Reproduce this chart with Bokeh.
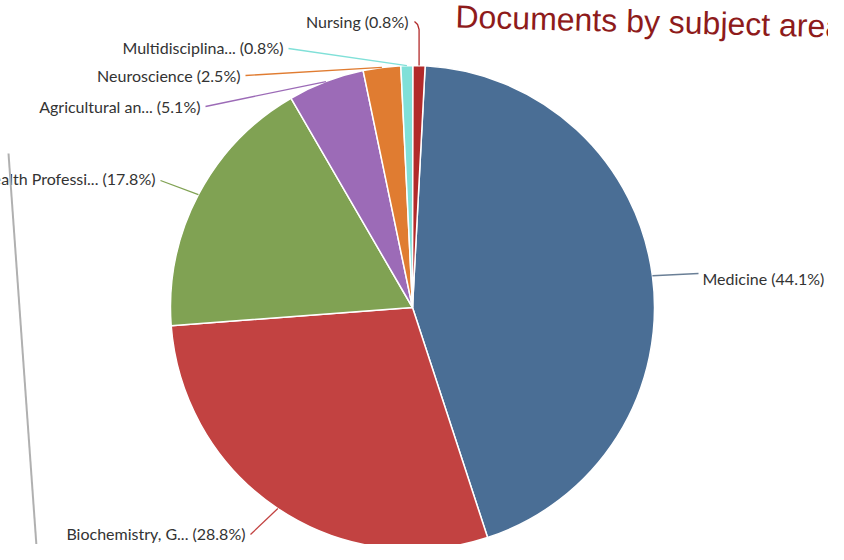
import math
from bokeh.plotting import figure
from bokeh.models import Range1d, ColumnDataSource
from bokeh.core.properties import value
from bokeh.embed import file_html
from bokeh.resources import INLINE

# ---- data ----
subjects = ["Medicine", "Biochemistry, G...", "Health Professi...", "Agricultural an...",
            "Neuroscience", "Multidisciplina...", "Nursing"]
shares = [44.1, 28.8, 17.8, 5.1, 2.5, 0.8, 0.8]
colors = ["#4a6e95", "#c24241", "#80a253", "#9c6bb7", "#e07c31", "#80e0d8", "#b22a2a"]
title_text = "Documents by subject area"

# ---- layout (screen pixel coordinates) ----
W, H = 828, 544
cx, cy_px, R = 412, 307, 242
start_offset = math.radians(3)   # pie rotated slightly clockwise
def Y(py):
    return 560 - py

# label anchors: (text x, text y, align, connector end x, connector end y)
label_layout = [
    (702, 278, "left", 698, 273),
    (245, 533, "right", 250, 534),
    (155, 178, "right", 160, 180),
    (200, 106, "right", 205, 106),
    (240, 75, "right", 245, 75),
    (283, 47, "right", 288, 48),
    (408, 21, "right", 414, 21),
]

p = figure(width=W, height=H, output_backend="svg", toolbar_location=None,
           x_range=Range1d(0, W), y_range=Range1d(Y(H), Y(0)),
           min_border=0, outline_line_color=None)
p.axis.visible = False
p.grid.visible = False
p.background_fill_color = "white"
p.border_fill_color = "white"

total = sum(shares)
starts, ends, mids = [], [], []
cum = 0.0
for s in shares:
    a0 = math.pi / 2 - start_offset - 2 * math.pi * cum / total
    cum += s
    a1 = math.pi / 2 - start_offset - 2 * math.pi * cum / total
    starts.append(a0)
    ends.append(a1)
    mids.append((a0 + a1) / 2)

src = ColumnDataSource(dict(start=starts, end=ends, color=colors))
p.wedge(x=cx, y=Y(cy_px), radius=R, start_angle="start", end_angle="end",
        direction="clock", fill_color="color", line_color="white", line_width=1.5,
        source=src)

# connectors
xs, ys, lcol = [], [], []
for i, m in enumerate(mids):
    ex = cx + R * math.cos(m)
    ey = Y(cy_px) + R * math.sin(m)
    tx, ty, al, lx, ly = label_layout[i]
    if i == len(mids) - 1:
        xs.append([ex, ex, ex - 1.5, lx])
        ys.append([ey, Y(29), Y(24), Y(ly)])
    else:
        xs.append([ex, lx])
        ys.append([ey, Y(ly)])
    lcol.append("#6a7f96" if i == 0 else colors[i])
p.multi_line(xs=xs, ys=ys, line_color=lcol, line_width=1.3)

# labels
for i, name in enumerate(subjects):
    tx, ty, al, lx, ly = label_layout[i]
    p.text(x=[tx], y=[Y(ty)], text=[f"{name} ({shares[i]}%)"],
           text_align=al, text_baseline="middle", text_font=value("Lato"),
           text_font_size="16px", text_color="#333333")

# title
p.text(x=[455], y=[Y(16)], text=[title_text], text_align="left",
       text_baseline="alphabetic", text_font=value("Liberation Sans"),
       text_font_size="32px", text_color="#8e1b1b", angle=-0.026)

# slide border decoration
p.segment(x0=[8], y0=[Y(153)], x1=[37], y1=[Y(560)], line_color="#b0b0b0", line_width=2)

open("out.html", "w").write(file_html(p, INLINE))
